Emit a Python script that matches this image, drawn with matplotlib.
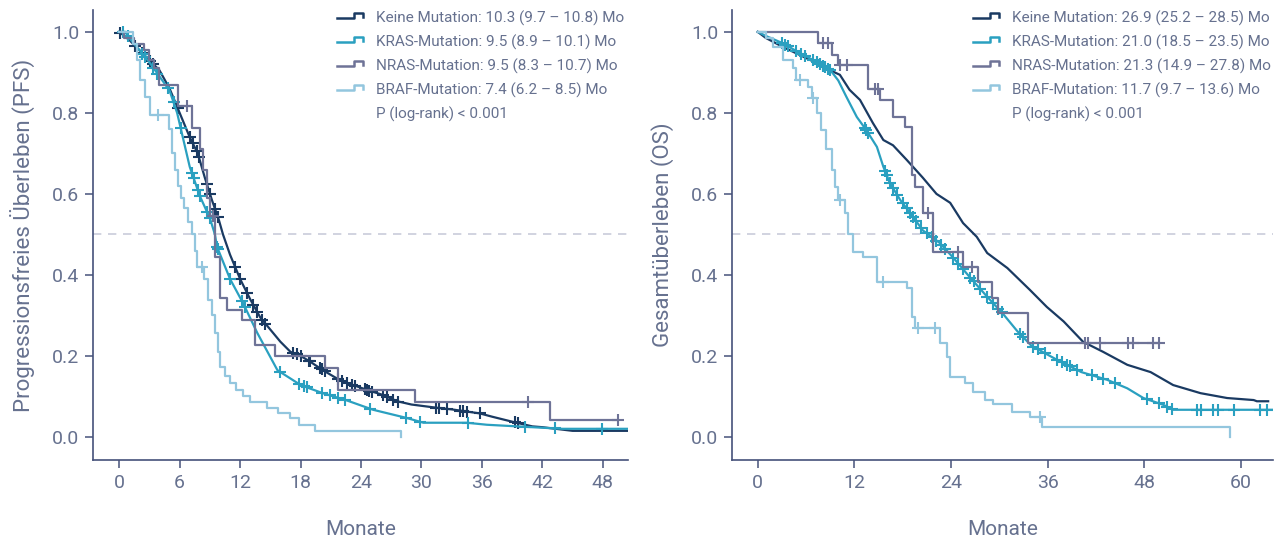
import numpy as np
import matplotlib
matplotlib.use('Agg')
import matplotlib.pyplot as plt
from matplotlib.lines import Line2D

# ---------------- data ----------------
labels_pfs = ['Keine Mutation: 10.3 (9.7 – 10.8) Mo',
              'KRAS-Mutation: 9.5 (8.9 – 10.1) Mo',
              'NRAS-Mutation: 9.5 (8.3 – 10.7) Mo',
              'BRAF-Mutation: 7.4 (6.2 – 8.5) Mo']
labels_os = ['Keine Mutation: 26.9 (25.2 – 28.5) Mo',
             'KRAS-Mutation: 21.0 (18.5 – 23.5) Mo',
             'NRAS-Mutation: 21.3 (14.9 – 27.8) Mo',
             'BRAF-Mutation: 11.7 (9.7 – 13.6) Mo']
p_text = 'P (log-rank) < 0.001'

# PFS - Keine Mutation
pfs_keine_t = [0, 0.5, 1, 2, 3, 4, 5, 6, 7, 7.8, 8.5, 9.2, 9.9, 10.3, 11, 12, 13, 14, 15, 16,
               17, 18, 19, 20.2, 21.9, 23, 24.6, 26, 27.6, 29, 31.5, 33, 35.8, 37, 39.1, 41, 42, 45, 50.5]
pfs_keine_s = [1.0, 0.99, 0.98, 0.955, 0.93, 0.905, 0.86, 0.80, 0.74, 0.70, 0.64, 0.585, 0.535, 0.50,
               0.45, 0.39, 0.34, 0.295, 0.265, 0.235, 0.21, 0.20, 0.185, 0.165, 0.14, 0.13, 0.116, 0.105,
               0.088, 0.08, 0.072, 0.068, 0.058, 0.05, 0.037, 0.026, 0.024, 0.015, 0.015]
pfs_keine_c = [0.1, 1.6, 2.3, 3.1, 3.4, 5.8, 7.0, 7.3, 7.7, 7.9, 8.7, 9.0, 9.5, 9.8, 11.5, 12.0, 12.7,
               13.3, 13.7, 14.2, 14.5, 17.3, 17.6, 18.0, 18.8, 18.9, 19.9, 20.1, 20.4, 21.7, 22.1, 22.6,
               23.1, 23.4, 24.4, 24.6, 24.8, 25.1, 26.2, 26.6, 27.2, 27.7, 31.4, 31.7, 32.5, 33.8, 34.1,
               34.5, 35.8, 39.3, 39.6]

# PFS - KRAS
pfs_kras_t = [0, 0.6, 1, 2, 3, 4, 5, 5.75, 6.5, 7, 8, 9, 9.5, 9.7, 11, 12.3, 13.7, 15.7, 16, 17.7, 18,
              20.2, 22.6, 25.2, 28.5, 30.2, 34.5, 36.5, 44, 50.5]
pfs_kras_s = [1.0, 1.0, 0.985, 0.955, 0.925, 0.89, 0.855, 0.80, 0.72, 0.667, 0.595, 0.54, 0.50, 0.47,
              0.39, 0.33, 0.257, 0.165, 0.16, 0.133, 0.128, 0.108, 0.09, 0.067, 0.047, 0.035, 0.035,
              0.03, 0.02, 0.02]
pfs_kras_c = [0.4, 0.9, 2.3, 2.6, 3.4, 3.8, 4.8, 5.4, 6.1, 7.2, 7.4, 7.8, 8.0, 8.7, 9.0, 9.7, 9.8,
              11.0, 12.2, 12.5, 16.0, 17.8, 18.3, 18.6, 20.1, 20.9, 21.7, 22.4, 24.9, 28.5, 29.9, 34.6,
              40.3, 43.3, 47.9]

# PFS - NRAS (step)
pfs_nras_t = [0, 0.5, 1.5, 2.5, 3.0, 3.5, 4.0, 5.8, 7.2, 8.0, 8.3, 8.7, 9.0, 9.5, 10.0, 10.7, 12.2,
              13.5, 15.5, 20.4, 21.7, 29.4, 42.8, 49.5]
pfs_nras_s = [1.0, 0.985, 0.97, 0.955, 0.93, 0.91, 0.87, 0.817, 0.763, 0.71, 0.66, 0.59, 0.545, 0.445,
              0.343, 0.313, 0.289, 0.227, 0.20, 0.17, 0.116, 0.086, 0.042, 0.042]
pfs_nras_c = [6.7, 9.3, 40.6, 49.5]

# PFS - BRAF (step)
pfs_braf_t = [0, 1.4, 1.8, 2.1, 2.6, 3.1, 4.9, 5.2, 5.5, 5.8, 6.1, 6.4, 6.8, 7.2, 7.5, 7.7, 8.4, 8.8,
              9.2, 9.5, 9.8, 10.0, 10.5, 11.0, 11.6, 12.3, 13.0, 14.7, 15.8, 17.0, 17.8, 19.4, 28.0]
pfs_braf_s = [1.0, 0.97, 0.93, 0.88, 0.84, 0.795, 0.76, 0.70, 0.66, 0.62, 0.59, 0.565, 0.53, 0.50,
              0.46, 0.42, 0.39, 0.338, 0.30, 0.257, 0.21, 0.173, 0.15, 0.133, 0.115, 0.10, 0.086,
              0.072, 0.06, 0.047, 0.03, 0.015, 0.0]
pfs_braf_c = [3.9, 8.2]

# OS - Keine Mutation
os_keine_t = [0, 1, 3.1, 5, 7.3, 9, 10.2, 11.4, 12.7, 14.3, 15.6, 16.8, 18.5, 20.5, 22.2, 23.9, 25.5,
              27.2, 28.5, 31, 33.8, 35.9, 38, 40.4, 42.9, 45.9, 48.8, 51.6, 55, 58.3, 61.6, 62, 63.4]
os_keine_s = [1.0, 0.985, 0.963, 0.945, 0.923, 0.905, 0.894, 0.857, 0.832, 0.775, 0.733, 0.72, 0.684,
              0.64, 0.60, 0.578, 0.528, 0.494, 0.454, 0.417, 0.363, 0.321, 0.285, 0.235, 0.21, 0.178,
              0.16, 0.128, 0.108, 0.096, 0.091, 0.088, 0.088]
os_keine_c = []

# OS - KRAS
os_kras_t = [0, 1, 3.1, 5.2, 7.3, 9, 10, 11, 12.3, 13.5, 14.8, 15.6, 16.4, 17.7, 19.3, 20.5, 22.6,
             24.3, 26.4, 28.5, 30.5, 32.2, 34, 37.2, 40.2, 43.4, 45.9, 47.9, 50.4, 51.6, 64]
os_kras_s = [1.0, 0.99, 0.972, 0.948, 0.926, 0.906, 0.88, 0.84, 0.79, 0.757, 0.716, 0.667, 0.627,
             0.585, 0.543, 0.51, 0.479, 0.442, 0.393, 0.346, 0.303, 0.262, 0.225, 0.19, 0.16, 0.141,
             0.12, 0.096, 0.079, 0.067, 0.067]
os_kras_c = [3.0, 3.4, 3.8, 4.8, 5.4, 5.9, 6.9, 7.3, 7.7, 8.1, 8.3, 8.7, 9.0, 13.3, 13.5, 13.7, 15.8,
             16.0, 16.4, 16.8, 17.3, 18.0, 18.5, 18.9, 19.3, 19.7, 20.3, 21.0, 21.6, 22.2, 22.8, 23.3,
             24.3, 24.9, 25.5, 26.4, 26.8, 27.6, 28.5, 29.2, 29.9, 30.3, 32.6, 33.0, 34.2, 34.8, 35.7,
             37.2, 37.8, 38.4, 38.8, 39.7, 41.5, 42.9, 44.4, 48.3, 49.8, 50.8, 51.5, 54.6, 55.0, 56.6,
             57.2, 59.1, 62.4, 63.3]

# OS - NRAS (step)
os_nras_t = [0, 7.5, 9.2, 10.0, 13.7, 15.2, 16.8, 18.3, 19.1, 19.5, 20.5, 21.8, 25.5, 27.4, 29.1,
             29.9, 33.6, 49.8]
os_nras_s = [1.0, 0.972, 0.943, 0.918, 0.86, 0.832, 0.79, 0.765, 0.647, 0.617, 0.553, 0.457, 0.42,
             0.383, 0.343, 0.306, 0.232, 0.232]
os_nras_c = [8.1, 8.7, 10.2, 11.1, 14.6, 14.9, 21.2, 24.9, 26.6, 40.7, 41.0, 42.5, 46.0, 46.6, 49.1,
             49.8]

# OS - BRAF (step)
os_braf_t = [0, 1.0, 1.9, 3.1, 4.4, 4.8, 6.2, 6.7, 7.3, 7.9, 8.5, 9.2, 9.6, 10.0, 10.8, 11.2, 11.8,
             13.1, 14.8, 18.5, 19.1, 19.5, 22.6, 23.5, 23.9, 25.7, 26.7, 28.2, 29.2, 31.6, 33.8, 35.3,
             58.7]
os_braf_s = [1.0, 0.985, 0.963, 0.93, 0.91, 0.88, 0.864, 0.837, 0.80, 0.758, 0.71, 0.66, 0.617, 0.585,
             0.553, 0.50, 0.457, 0.445, 0.383, 0.368, 0.296, 0.27, 0.232, 0.198, 0.148, 0.133, 0.111,
             0.091, 0.081, 0.062, 0.05, 0.025, 0.0]
os_braf_c = [5.2, 6.8, 10.2, 15.6, 19.9, 22.0, 35.1]

colors = ['#1a3a62', '#2aa0c0', '#6e7397', '#93c6de']
text_col = '#66718f'
spine_col = '#46527a'

W, H = 1283, 539

plt.rcParams['font.family'] = ['Roboto', 'DejaVu Sans']


def surv_at(t, s, c, step):
    t = np.asarray(t)
    s = np.asarray(s)
    c = np.asarray(c, dtype=float)
    if step:
        idx = np.searchsorted(t, c, side='right') - 1
        return s[np.clip(idx, 0, len(s) - 1)]
    return np.interp(c, t, s)


def draw_legend(fig, labels, x_handle):
    # legend drawn by hand so the step-shaped keys sit where they do in the original
    for i, lab in enumerate(labels + [p_text]):
        yc = 18 + 24 * i
        if i < len(labels):
            xs = np.array([x_handle, x_handle + 17, x_handle + 17, x_handle + 26, x_handle + 26])
            ys = np.array([yc, yc, yc - 5, yc - 5, yc - 1])
            fig.add_artist(Line2D(xs / W, 1 - ys / H, transform=fig.transFigure,
                                  color=colors[i], lw=1.8))
        fig.text((x_handle + 39) / W, 1 - yc / H, lab, fontsize=11, color=text_col,
                 ha='left', va='center')


def km_panel(ax, curves, xlim, xticks, ylabel):
    ax.axhline(0.5, color='#c9ccda', lw=1.2, ls=(0, (5, 4)), zorder=0)
    for (t, s, c, step), col in zip(curves, colors):
        if step:
            ax.step(t, s, where='post', color=col, lw=1.6)
        else:
            ax.plot(t, s, color=col, lw=1.6)
        if len(c):
            ax.plot(c, surv_at(t, s, c, step), ls='none', marker='+', ms=9, mew=1.5, color=col)
    ax.set_xlim(*xlim)
    ax.set_ylim(-0.057, 1.054)
    ax.set_xticks(xticks)
    ax.set_yticks([0.0, 0.2, 0.4, 0.6, 0.8, 1.0])
    ax.set_yticklabels(['0.0', '0.2', '0.4', '0.6', '0.8', '1.0'])
    for sp in ['top', 'right']:
        ax.spines[sp].set_visible(False)
    for sp in ['left', 'bottom']:
        ax.spines[sp].set_color(spine_col)
        ax.spines[sp].set_linewidth(1.2)
    ax.tick_params(direction='out', length=6, width=1.1, color=spine_col, labelcolor=text_col,
                   labelsize=14, pad=4)
    ax.set_xlabel('Monate', fontsize=15, color=text_col, labelpad=20)
    ax.set_ylabel(ylabel, fontsize=16, color=text_col, labelpad=12)


def main():
    fig = plt.figure(figsize=(W / 100, H / 100), dpi=100)
    ax1 = fig.add_axes([93 / W, 1 - 460 / H, 535 / W, 450 / H])
    ax2 = fig.add_axes([732 / W, 1 - 460 / H, 541 / W, 450 / H])

    km_panel(ax1,
             [(pfs_keine_t, pfs_keine_s, pfs_keine_c, False),
              (pfs_kras_t, pfs_kras_s, pfs_kras_c, False),
              (pfs_nras_t, pfs_nras_s, pfs_nras_c, True),
              (pfs_braf_t, pfs_braf_s, pfs_braf_c, True)],
             (-2.6, 50.5), [0, 6, 12, 18, 24, 30, 36, 42, 48],
             'Progressionsfreies Überleben (PFS)')
    km_panel(ax2,
             [(os_keine_t, os_keine_s, os_keine_c, False),
              (os_kras_t, os_kras_s, os_kras_c, False),
              (os_nras_t, os_nras_s, os_nras_c, True),
              (os_braf_t, os_braf_s, os_braf_c, True)],
             (-3.2, 64.0), [0, 12, 24, 36, 48, 60],
             'Gesamtüberleben (OS)')

    draw_legend(fig, labels_pfs, 337)
    draw_legend(fig, labels_os, 973)

    fig.savefig('out.png', dpi=100)


if __name__ == '__main__':
    main()
